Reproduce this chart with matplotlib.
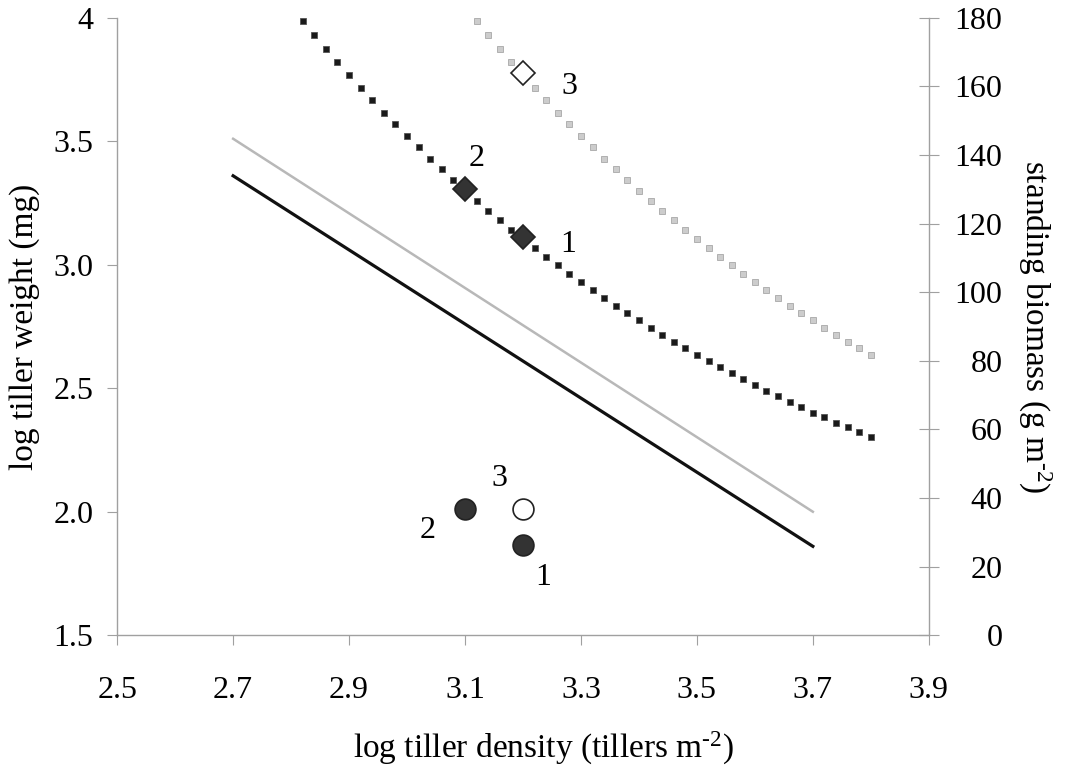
import numpy as np
import matplotlib
matplotlib.use("Agg")
import matplotlib.pyplot as plt

plt.rcParams['font.family'] = ['Liberation Serif', 'DejaVu Serif']
plt.rcParams['mathtext.fontset'] = 'custom'
plt.rcParams['mathtext.rm'] = 'Liberation Serif'
plt.rcParams['mathtext.default'] = 'regular'

# self-thinning lines (log tiller weight, left axis)
line_x = [2.7, 3.7]
black_line_y = [3.36, 1.86]
gray_line_y = [3.51, 2.0]

# standing biomass curves (right axis)
black_sq_x = [2.82, 2.84, 2.86, 2.88, 2.90, 2.92, 2.94, 2.96, 2.98, 3.00,
              3.02, 3.04, 3.06, 3.08, 3.10, 3.12, 3.14, 3.16, 3.18, 3.20,
              3.22, 3.24, 3.26, 3.28, 3.30, 3.32, 3.34, 3.36, 3.38, 3.40,
              3.42, 3.44, 3.46, 3.48, 3.50, 3.52, 3.54, 3.56, 3.58, 3.60,
              3.62, 3.64, 3.66, 3.68, 3.70, 3.72, 3.74, 3.76, 3.78, 3.80]
black_sq_b = [179.0, 174.9, 171.0, 167.1, 163.3, 159.5, 155.9, 152.3, 148.9, 145.5,
              142.2, 138.9, 135.8, 132.7, 129.6, 126.7, 123.8, 121.0, 118.2, 115.5,
              112.9, 110.3, 107.8, 105.4, 103.0, 100.6, 98.3, 96.1, 93.9, 91.8,
              89.7, 87.6, 85.6, 83.7, 81.8, 79.9, 78.1, 76.3, 74.6, 72.9,
              71.2, 69.6, 68.0, 66.5, 64.9, 63.5, 62.0, 60.6, 59.2, 57.9]
gray_sq_x = [3.12, 3.14, 3.16, 3.18, 3.20, 3.22, 3.24, 3.26, 3.28, 3.30,
             3.32, 3.34, 3.36, 3.38, 3.40, 3.42, 3.44, 3.46, 3.48, 3.50,
             3.52, 3.54, 3.56, 3.58, 3.60, 3.62, 3.64, 3.66, 3.68, 3.70,
             3.72, 3.74, 3.76, 3.78, 3.80]
gray_sq_b = [179.0, 174.9, 171.0, 167.1, 163.3, 159.5, 155.9, 152.3, 148.9, 145.5,
             142.2, 138.9, 135.8, 132.7, 129.6, 126.7, 123.8, 121.0, 118.2, 115.5,
             112.9, 110.3, 107.8, 105.4, 103.0, 100.6, 98.3, 96.1, 93.9, 91.8,
             89.7, 87.6, 85.6, 83.7, 81.8]

# treatments 1, 2, 3
treat_labels = ['1', '2', '3']
treat_density = [3.2, 3.1, 3.2]
treat_weight = [1.865, 2.01, 2.01]
treat_biomass = [116.0, 130.0, 164.0]
treat_filled = [True, True, False]

fs = 23

fig = plt.figure(figsize=(10.75, 7.7), dpi=100)
ax = fig.add_axes([0.109, 0.175, 0.755, 0.802])
ax2 = ax.twinx()

ax.plot(line_x, gray_line_y, color='#b8b8b8', lw=1.8, zorder=2)
ax.plot(line_x, black_line_y, color='#111111', lw=2.3, zorder=3)

ax2.plot(black_sq_x, black_sq_b, ls='none', marker='s', ms=5, mfc='#1a1a1a',
         mec='#555555', mew=0.6, zorder=3)
ax2.plot(gray_sq_x, gray_sq_b, ls='none', marker='s', ms=4, mfc='#cccccc',
         mec='#a8a8a8', mew=0.6, zorder=3)

for lab, d, w, b, f in zip(treat_labels, treat_density, treat_weight, treat_biomass, treat_filled):
    fc = '#333333' if f else 'white'
    ax.plot(d, w, 'o', ms=15, mfc=fc, mec='#222222', mew=1.2, zorder=5)
    ax2.plot(d, b, 'D', ms=12, mfc=fc, mec='#222222', mew=1.2, zorder=5)

# point labels
ax.text(3.036, 1.925, '2', fontsize=fs, ha='center', va='center')
ax.text(3.16, 2.136, '3', fontsize=fs, ha='center', va='center')
ax.text(3.234, 1.735, '1', fontsize=fs, ha='center', va='center')
ax2.text(3.12, 139, '2', fontsize=fs, ha='center', va='center')
ax2.text(3.278, 114, '1', fontsize=fs, ha='center', va='center')
ax2.text(3.28, 160, '3', fontsize=fs, ha='center', va='center')

ax.set_xlim(2.5, 3.9)
ax.set_ylim(1.5, 4.0)
ax2.set_ylim(0, 180)

ax.set_xticks([2.5, 2.7, 2.9, 3.1, 3.3, 3.5, 3.7, 3.9])
ax.set_xticklabels(['2.5', '2.7', '2.9', '3.1', '3.3', '3.5', '3.7', '3.9'])
ax.set_yticks([1.5, 2.0, 2.5, 3.0, 3.5, 4.0])
ax.set_yticklabels(['1.5', '2.0', '2.5', '3.0', '3.5', '4'])
ax2.set_yticks(np.arange(0, 181, 20))

for a in (ax, ax2):
    a.spines['top'].set_visible(False)
    for s in a.spines.values():
        s.set_color('#a0a0a0')
        s.set_linewidth(1.0)
ax.spines['right'].set_visible(False)
ax2.spines['left'].set_visible(False)
ax2.spines['bottom'].set_visible(False)

ax.tick_params(axis='x', direction='out', length=7, color='#a0a0a0', labelsize=fs, pad=22)
ax.tick_params(axis='y', direction='out', length=7, color='#a0a0a0', labelsize=fs, pad=10)
ax2.tick_params(axis='y', direction='inout', length=14, color='#a0a0a0', labelsize=fs, pad=46)
for lbl in ax2.get_yticklabels():
    lbl.set_horizontalalignment('right')

fig.text(543 / 1075, 12 / 770, 'log tiller density (tillers m$^{\u20102}$)',
         fontsize=fs + 1, ha='center', va='baseline')
fig.text(25 / 1075, 0.5 * (0.175 + 0.977), 'log tiller weight (mg)',
         fontsize=fs + 1, rotation=90, ha='center', va='center')
fig.text(1035 / 1075, 0.5 * (0.175 + 0.977), 'standing biomass (g m$^{\u20102}$)',
         fontsize=fs + 1, rotation=270, ha='center', va='center')

fig.savefig('out.png', dpi=100)
